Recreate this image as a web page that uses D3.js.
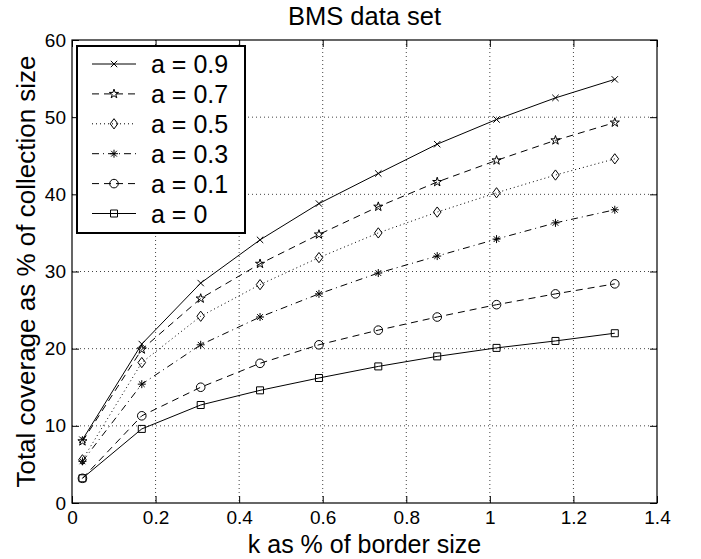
<!DOCTYPE html>
<html>
<head>
<meta charset="utf-8">
<script src="https://cdn.jsdelivr.net/npm/d3@7"></script>
<style>
  body { margin: 0; background: #fff; }
  svg { display: block; font-family: "Liberation Sans", Arial, sans-serif; }
</style>
</head>
<body>
<svg id="chart" width="701" height="559"></svg>
<script>
const kValues = [0.025, 0.167, 0.308, 0.45, 0.591, 0.733, 0.874, 1.016, 1.157, 1.299]
const a09 = [8.2, 20.6, 28.5, 34.1, 38.8, 42.7, 46.5, 49.7, 52.5, 54.9]
const a07 = [8.0, 19.9, 26.5, 31.0, 34.8, 38.4, 41.6, 44.4, 47.0, 49.3]
const a05 = [5.6, 18.2, 24.2, 28.3, 31.8, 35.0, 37.7, 40.2, 42.5, 44.6]
const a03 = [5.4, 15.4, 20.5, 24.1, 27.1, 29.8, 32.0, 34.2, 36.3, 38.0]
const a01 = [3.2, 11.3, 15.0, 18.1, 20.5, 22.4, 24.1, 25.7, 27.1, 28.4]
const a00 = [3.2, 9.6, 12.7, 14.6, 16.2, 17.7, 19.0, 20.1, 21.0, 22.0]
const seriesNames = ['a = 0.9', 'a = 0.7', 'a = 0.5', 'a = 0.3', 'a = 0.1', 'a = 0']
const xTicks = [0, 0.2, 0.4, 0.6, 0.8, 1, 1.2, 1.4]
const yTicks = [0, 10, 20, 30, 40, 50, 60]

const plotLeft = 72, plotRight = 657, plotTop = 40, plotBottom = 503

const x = d3.scaleLinear().domain([0, 1.4]).range([plotLeft, plotRight])
const y = d3.scaleLinear().domain([0, 60]).range([plotBottom, plotTop])

// marker path generators, r = half size
const markers = {
  times: (r) => `M${-r},${-r}L${r},${r}M${-r},${r}L${r},${-r}`,
  star: (r) => d3.symbol(d3.symbolStar, (r * r) / 0.8908)(),
  diamond: (r) => `M0,${-r * 1.35}L${r},0L0,${r * 1.35}L${-r},0Z`,
  asterisk: (r) => {
    const d = r * 0.72
    return `M0,${-r}V${r}M${-r},0H${r}M${-d},${-d}L${d},${d}M${-d},${d}L${d},${-d}`
  },
  circle: (r) => d3.symbol(d3.symbolCircle, Math.PI * r * r)(),
  square: (r) => `M${-r},${-r}H${r}V${r}H${-r}Z`,
}

const series = [
  { name: seriesNames[0], values: a09, dash: null, marker: 'times', r: 3.2 },
  { name: seriesNames[1], values: a07, dash: '7,5', marker: 'star', r: 4.8 },
  { name: seriesNames[2], values: a05, dash: '1,3', marker: 'diamond', r: 3.8 },
  { name: seriesNames[3], values: a03, dash: '7,4,1,4', marker: 'asterisk', r: 4 },
  { name: seriesNames[4], values: a01, dash: '7,5', marker: 'circle', r: 4.3 },
  { name: seriesNames[5], values: a00, dash: null, marker: 'square', r: 3.5 },
]

const svg = d3.select('#chart')

// dotted grid
const grid = svg.append('g')
grid.selectAll('line.gx')
  .data(xTicks.slice(1, -1))
  .join('line')
  .attr('class', 'gx')
  .attr('x1', (d) => x(d)).attr('x2', (d) => x(d))
  .attr('y1', plotTop).attr('y2', plotBottom)
grid.selectAll('line.gy')
  .data(yTicks.slice(1, -1))
  .join('line')
  .attr('class', 'gy')
  .attr('x1', plotLeft).attr('x2', plotRight)
  .attr('y1', (d) => y(d)).attr('y2', (d) => y(d))
grid.selectAll('line')
  .attr('stroke', '#444')
  .attr('stroke-width', 1)
  .attr('stroke-dasharray', '1,3')

// axes (MATLAB-style inward ticks on all four sides)
const tickLen = 7
svg.append('g')
  .attr('transform', `translate(0,${plotBottom})`)
  .call(d3.axisBottom(x).tickValues(xTicks).tickFormat(d3.format('')).tickSizeInner(-tickLen).tickSizeOuter(0).tickPadding(8))
svg.append('g')
  .attr('transform', `translate(0,${plotTop})`)
  .call(d3.axisTop(x).tickValues(xTicks).tickFormat('').tickSizeInner(-tickLen).tickSizeOuter(0))
svg.append('g')
  .attr('transform', `translate(${plotLeft},0)`)
  .call(d3.axisLeft(y).tickValues(yTicks).tickSizeInner(-tickLen).tickSizeOuter(0).tickPadding(6))
svg.append('g')
  .attr('transform', `translate(${plotRight},0)`)
  .call(d3.axisRight(y).tickValues(yTicks).tickFormat('').tickSizeInner(-tickLen).tickSizeOuter(0))

svg.selectAll('.domain').remove()
svg.selectAll('.tick line').attr('stroke', '#000')
svg.selectAll('.tick text')
  .attr('fill', '#000')
  .style('font-size', '19px')
  .style('font-family', '"Liberation Sans", Arial, sans-serif')

svg.append('rect')
  .attr('x', plotLeft).attr('y', plotTop)
  .attr('width', plotRight - plotLeft).attr('height', plotBottom - plotTop)
  .attr('fill', 'none').attr('stroke', '#000').attr('stroke-width', 1.2)

// lines and markers
const line = d3.line().x((d, i) => x(kValues[i])).y((d) => y(d))
series.forEach((s) => {
  svg.append('path')
    .datum(s.values)
    .attr('d', line)
    .attr('fill', 'none')
    .attr('stroke', '#000')
    .attr('stroke-width', 1)
    .attr('stroke-dasharray', s.dash)
  svg.append('g')
    .selectAll('path')
    .data(s.values)
    .join('path')
    .attr('transform', (d, i) => `translate(${x(kValues[i])},${y(d)})`)
    .attr('d', markers[s.marker](s.r))
    .attr('fill', 'none')
    .attr('stroke', '#000')
    .attr('stroke-width', 1)
})

// legend
const legend = svg.append('g')
legend.append('rect')
  .attr('x', 77).attr('y', 46)
  .attr('width', 168).attr('height', 187)
  .attr('fill', '#fff').attr('stroke', '#000').attr('stroke-width', 2)
series.forEach((s, i) => {
  const cy = 64 + i * 29.9
  legend.append('line')
    .attr('x1', 92).attr('x2', 136)
    .attr('y1', cy).attr('y2', cy)
    .attr('stroke', '#000').attr('stroke-width', 1)
    .attr('stroke-dasharray', s.dash)
  legend.append('path')
    .attr('transform', `translate(114,${cy})`)
    .attr('d', markers[s.marker](s.r))
    .attr('fill', 'none').attr('stroke', '#000')
  legend.append('text')
    .attr('x', 151).attr('y', cy + 9)
    .style('font-size', '25px')
    .text(s.name)
})

// titles
svg.append('text')
  .attr('x', (plotLeft + plotRight) / 2).attr('y', 25)
  .attr('text-anchor', 'middle')
  .style('font-size', '25.5px')
  .text('BMS data set')
svg.append('text')
  .attr('x', (plotLeft + plotRight) / 2).attr('y', 553)
  .attr('text-anchor', 'middle')
  .style('font-size', '25px')
  .text('k as % of border size')
svg.append('text')
  .attr('transform', `translate(35,${(plotTop + plotBottom) / 2}) rotate(-90)`)
  .attr('text-anchor', 'middle')
  .style('font-size', '26px')
  .text('Total coverage as % of collection size')
</script>
</body>
</html>
